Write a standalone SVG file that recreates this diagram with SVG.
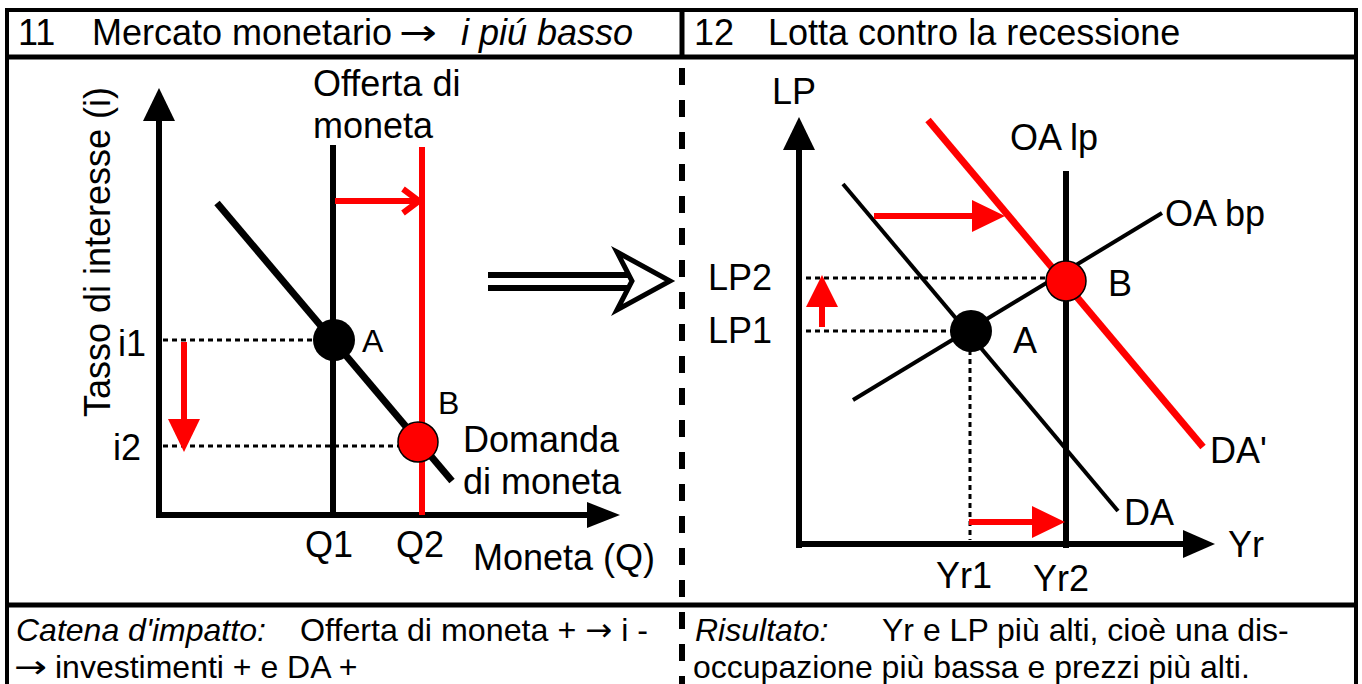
<svg xmlns="http://www.w3.org/2000/svg" width="1362" height="684" viewBox="0 0 1362 684">
<defs>
<style>
text{font-family:"Liberation Sans",Arial,sans-serif;fill:#000}
.t36{font-size:36px}
.t32{font-size:32px}
.it{font-style:italic}
.arr{font-family:"DejaVu Sans",sans-serif}
.ax{stroke:#000;stroke-width:6;fill:none}
.blk{stroke:#000;fill:none}
.red{stroke:#ff0000;fill:none}
.dot{stroke:#000;stroke-width:3;stroke-dasharray:5 4;fill:none}
.head{fill:#000;stroke:none}
.rhead{fill:#ff0000;stroke:none}
</style>
</defs>
<rect width="1362" height="684" fill="#fff"/>
<g id="frame">
<path d="M7,690 V10 H1356 V690" fill="none" stroke="#000" stroke-width="4"/>
<line x1="7" y1="57" x2="1356" y2="57" stroke="#000" stroke-width="5"/>
<line x1="7" y1="605" x2="1356" y2="605" stroke="#000" stroke-width="5"/>
<line x1="682" y1="10" x2="682" y2="57" stroke="#000" stroke-width="5"/>
<line x1="682" y1="68" x2="682" y2="684" stroke="#000" stroke-width="6" stroke-dasharray="17 15"/>
</g>
<g id="headers">
<text class="t36" x="18" y="45">11</text>
<text class="t36" x="92" y="45">Mercato monetario</text>
<text class="t36 arr" x="399" y="45" textLength="38" lengthAdjust="spacingAndGlyphs">→</text>
<text class="t36 it" x="461" y="45">i piú basso</text>
<text class="t36" x="694" y="45">12</text>
<text class="t36" x="768" y="45">Lotta contro la recessione</text>
</g>
<g id="footer">
<text class="t32 it" x="16" y="641">Catena d'impatto:</text>
<text class="t32" x="300" y="641" textLength="348" lengthAdjust="spacingAndGlyphs">Offerta di moneta + <tspan class="arr">→</tspan> i -</text>
<text class="t32 arr" x="14" y="678" textLength="33" lengthAdjust="spacingAndGlyphs">→</text>
<text class="t32" x="55" y="678">investimenti + e DA +</text>
<text class="t32 it" x="695" y="641">Risultato:</text>
<text class="t32" x="882" y="641">Yr e LP più alti, cioè una dis-</text>
<text class="t32" x="693" y="678">occupazione più bassa e prezzi più alti.</text>
</g>
<g id="connectors">
<line class="ax" x1="159" y1="518" x2="159" y2="118"/>
<polygon class="head" points="159,88 143,121 175,121"/>
<line class="ax" x1="156" y1="515" x2="590" y2="515"/>
<polygon class="head" points="620,515 587,502 587,528"/>
<line class="dot" x1="163" y1="340" x2="316" y2="340"/>
<line class="dot" x1="163" y1="446" x2="398" y2="446"/>
<line class="blk" stroke-width="6" x1="333" y1="145" x2="333" y2="515"/>
<line class="red" stroke-width="6" x1="422" y1="147" x2="422" y2="515"/>
<line class="blk" stroke-width="7" x1="217" y1="203" x2="452" y2="481"/>
<line class="red" stroke-width="6" x1="335" y1="201" x2="418" y2="201"/>
<polyline class="red" stroke-width="6" points="403,189 419,201 403,213"/>
<line class="red" stroke-width="6" x1="184" y1="342" x2="184" y2="425"/>
<polygon class="rhead" points="184,452 168,419 200,419"/>
<line class="blk" stroke-width="6" x1="488" y1="275" x2="634" y2="275"/>
<line class="blk" stroke-width="6" x1="488" y1="288" x2="634" y2="288"/>
<polygon points="617,252 670,281 617,310 632,281" fill="#fff" stroke="#000" stroke-width="5" stroke-linejoin="miter"/>
<line class="ax" x1="799" y1="548" x2="799" y2="146"/>
<polygon class="head" points="799,117 783,150 815,150"/>
<line class="ax" x1="796" y1="544" x2="1186" y2="544"/>
<polygon class="head" points="1215,544 1183,530 1183,558"/>
<line class="dot" x1="806" y1="278" x2="1046" y2="278"/>
<line class="dot" x1="806" y1="331" x2="952" y2="331"/>
<line class="dot" x1="970" y1="350" x2="970" y2="540"/>
<line class="blk" stroke-width="4" x1="853" y1="400" x2="1162" y2="213"/>
<line class="blk" stroke-width="4" x1="843" y1="184" x2="1118" y2="511"/>
<line class="red" stroke-width="7" x1="928" y1="120" x2="1203" y2="447"/>
<line class="blk" stroke-width="6" x1="1066" y1="171" x2="1066" y2="548"/>
<line class="red" stroke-width="6" x1="874" y1="216" x2="975" y2="216"/>
<polygon class="rhead" points="1005,216 972,200 972,232"/>
<line class="red" stroke-width="6" x1="822" y1="327" x2="822" y2="304"/>
<polygon class="rhead" points="822,275 806,307 838,307"/>
<line class="red" stroke-width="6" x1="969" y1="522" x2="1035" y2="522"/>
<polygon class="rhead" points="1065,522 1032,506 1032,538"/>
</g>
<g id="left-chart-labels">
<text class="t36" transform="translate(110,252) rotate(-90)" text-anchor="middle">Tasso di interesse (i)</text>
<text class="t36" x="313" y="96">Offerta di</text>
<text class="t36" x="313" y="138">moneta</text>
<text class="t36" x="118" y="356">i1</text>
<text class="t36" x="113" y="460">i2</text>
<text class="t36" x="305" y="557">Q1</text>
<text class="t36" x="396" y="557">Q2</text>
<text class="t36" x="473" y="570">Moneta (Q)</text>
<text class="t36" x="463" y="452">Domanda</text>
<text class="t36" x="463" y="494">di moneta</text>
</g>
<g id="node-A-left">
<circle cx="334" cy="340" r="21" fill="#000"/>
<text class="t32" x="362" y="352">A</text>
</g>
<g id="node-B-left">
<circle cx="418" cy="442" r="20" fill="#ff0000" stroke="#000" stroke-width="1.5"/>
<text class="t32" x="438" y="414">B</text>
</g>
<g id="right-chart-labels">
<text class="t36" x="772" y="104">LP</text>
<text class="t36" x="1010" y="150">OA lp</text>
<text class="t36" x="1165" y="226">OA bp</text>
<text class="t36" x="708" y="290">LP2</text>
<text class="t36" x="708" y="343">LP1</text>
<text class="t36" x="1210" y="463">DA'</text>
<text class="t36" x="1124" y="525">DA</text>
<text class="t36" x="1228" y="557">Yr</text>
<text class="t36" x="936" y="588">Yr1</text>
<text class="t36" x="1033" y="591">Yr2</text>
</g>
<g id="node-A-right">
<circle cx="971" cy="331" r="21" fill="#000"/>
<text class="t36" x="1013" y="353">A</text>
</g>
<g id="node-B-right">
<circle cx="1066" cy="281" r="20" fill="#ff0000" stroke="#000" stroke-width="1.5"/>
<text class="t36" x="1108" y="296">B</text>
</g>
</svg>
